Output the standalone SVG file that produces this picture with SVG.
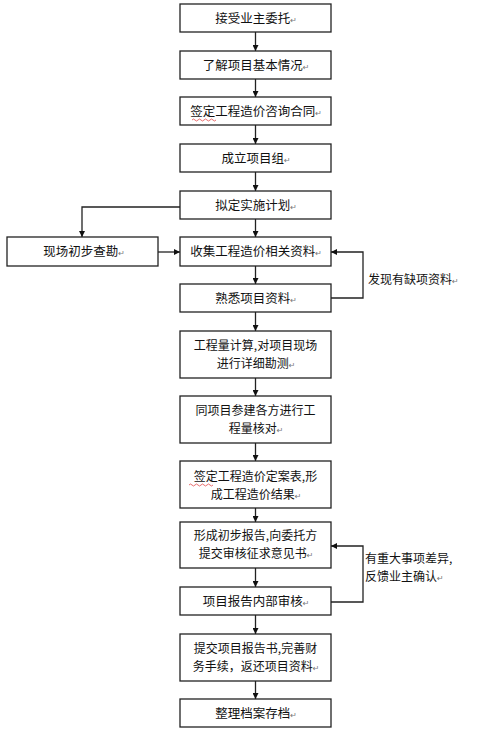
<svg xmlns="http://www.w3.org/2000/svg" width="500" height="739" viewBox="0 0 500 739">
<style>
.box{fill:#fff;stroke:#222;stroke-width:1.3}
.t{font-family:"Noto Sans CJK SC","Liberation Sans",sans-serif;font-size:12.5px;fill:#111;text-anchor:middle}
.t2{font-family:"Noto Sans CJK SC","Liberation Sans",sans-serif;font-size:12px;fill:#111;text-anchor:middle}
.l{font-family:"Noto Sans CJK SC","Liberation Sans",sans-serif;font-size:12px;fill:#111}
.m{font-family:"DejaVu Sans",sans-serif;font-size:8px;fill:#777}
.c{fill:none;stroke:#222;stroke-width:1.3}
</style>
<defs>
<marker id="a" viewBox="0 0 10 10" refX="10" refY="5" markerWidth="6" markerHeight="6" markerUnits="userSpaceOnUse" orient="auto">
<path d="M0,0 L10,5 L0,10 z" fill="#111"/>
</marker>
</defs>
<rect width="500" height="739" fill="#fff"/>
<g id="connectors">
<line class="c" x1="255.5" y1="32" x2="255.5" y2="51" marker-end="url(#a)"/>
<line class="c" x1="255.5" y1="79" x2="255.5" y2="97" marker-end="url(#a)"/>
<line class="c" x1="255.5" y1="125" x2="255.5" y2="144" marker-end="url(#a)"/>
<line class="c" x1="255.5" y1="172" x2="255.5" y2="191" marker-end="url(#a)"/>
<line class="c" x1="255.5" y1="219" x2="255.5" y2="237" marker-end="url(#a)"/>
<polyline class="c" points="180,207 82,207 82,237" marker-end="url(#a)"/>
<line class="c" x1="158" y1="252" x2="180" y2="252" marker-end="url(#a)"/>
<line class="c" x1="255.5" y1="266" x2="255.5" y2="284" marker-end="url(#a)"/>
<polyline class="c" points="331,298 363,298 363,252 331,252" marker-end="url(#a)"/>
<line class="c" x1="255.5" y1="312" x2="255.5" y2="331" marker-end="url(#a)"/>
<line class="c" x1="255.5" y1="378" x2="255.5" y2="396" marker-end="url(#a)"/>
<line class="c" x1="255.5" y1="443" x2="255.5" y2="461" marker-end="url(#a)"/>
<line class="c" x1="255.5" y1="508" x2="255.5" y2="522" marker-end="url(#a)"/>
<line class="c" x1="255.5" y1="568" x2="255.5" y2="587" marker-end="url(#a)"/>
<polyline class="c" points="331,602 363,602 363,546 331,546" marker-end="url(#a)"/>
<line class="c" x1="255.5" y1="615" x2="255.5" y2="634" marker-end="url(#a)"/>
<line class="c" x1="255.5" y1="681" x2="255.5" y2="699" marker-end="url(#a)"/>
</g>
<g id="n1"><rect class="box" x="180" y="4" width="151" height="28"/><text class="t" x="256" y="22.5">接受业主委托<tspan class="m">↵</tspan></text></g>
<g id="n2"><rect class="box" x="180" y="51" width="151" height="28"/><text class="t" x="256" y="69.5">了解项目基本情况<tspan class="m">↵</tspan></text></g>
<g id="n3"><rect class="box" x="180" y="97" width="151" height="28"/><text class="t" x="256" y="115.5">签定工程造价咨询合同<tspan class="m">↵</tspan></text>
<path d="M192,120 q1.5,-2 3,0 t3,0 t3,0 t3,0 t3,0 t3,0 t3,0 t3,0" fill="none" stroke="#e03030" stroke-width="0.7"/></g>
<g id="n4"><rect class="box" x="180" y="144" width="151" height="28"/><text class="t" x="256" y="162.5">成立项目组<tspan class="m">↵</tspan></text></g>
<g id="n5"><rect class="box" x="180" y="191" width="151" height="28"/><text class="t" x="256" y="209.5">拟定实施计划<tspan class="m">↵</tspan></text></g>
<g id="n6"><rect class="box" x="7" y="237" width="151" height="29"/><text class="t" x="84" y="256">现场初步查勘<tspan class="m">↵</tspan></text></g>
<g id="n7"><rect class="box" x="180" y="237" width="151" height="29"/><text class="t" x="256" y="256">收集工程造价相关资料<tspan class="m">↵</tspan></text></g>
<g id="n8"><rect class="box" x="180" y="284" width="151" height="28"/><text class="t" x="256" y="302.5">熟悉项目资料<tspan class="m">↵</tspan></text></g>
<g id="n9"><rect class="box" x="180" y="331" width="151" height="47"/><text class="t2" x="255.5" y="349.5">工程量计算,对项目现场</text><text class="t2" x="256" y="367.5">进行详细勘测<tspan class="m">↵</tspan></text></g>
<g id="n10"><rect class="box" x="180" y="396" width="151" height="47"/><text class="t2" x="255.5" y="414.5">同项目参建各方进行工</text><text class="t2" x="256" y="432.5">程量核对<tspan class="m">↵</tspan></text></g>
<g id="n11"><rect class="box" x="180" y="461" width="151" height="47"/><text class="t2" x="255.5" y="480.5">签定工程造价定案表,形</text><text class="t2" x="256" y="498.5">成工程造价结果<tspan class="m">↵</tspan></text>
<path d="M189,485 q1.5,-2 3,0 t3,0 t3,0 t3,0 t3,0 t3,0 t3,0 t3,0" fill="none" stroke="#e03030" stroke-width="0.7"/></g>
<g id="n12"><rect class="box" x="180" y="522" width="151" height="46"/><text class="t2" x="255.5" y="540">形成初步报告,向委托方</text><text class="t2" x="256" y="558">提交审核征求意见书<tspan class="m">↵</tspan></text></g>
<g id="n13"><rect class="box" x="180" y="587" width="151" height="28"/><text class="t" x="256" y="605.5">项目报告内部审核<tspan class="m">↵</tspan></text></g>
<g id="n14"><rect class="box" x="180" y="634" width="151" height="47"/><text class="t2" x="255.5" y="652.5">提交项目报告书,完善财</text><text class="t2" x="256" y="670.5">务手续，返还项目资料<tspan class="m">↵</tspan></text></g>
<g id="n15"><rect class="box" x="180" y="699" width="151" height="28"/><text class="t" x="256" y="717.5">整理档案存档<tspan class="m">↵</tspan></text></g>
<g id="labels">
<text class="l" x="368" y="283.5">发现有缺项资料<tspan class="m">↵</tspan></text>
<text class="l" x="365" y="563">有重大事项差异,</text>
<text class="l" x="365" y="581">反馈业主确认<tspan class="m">↵</tspan></text>
</g>
</svg>
